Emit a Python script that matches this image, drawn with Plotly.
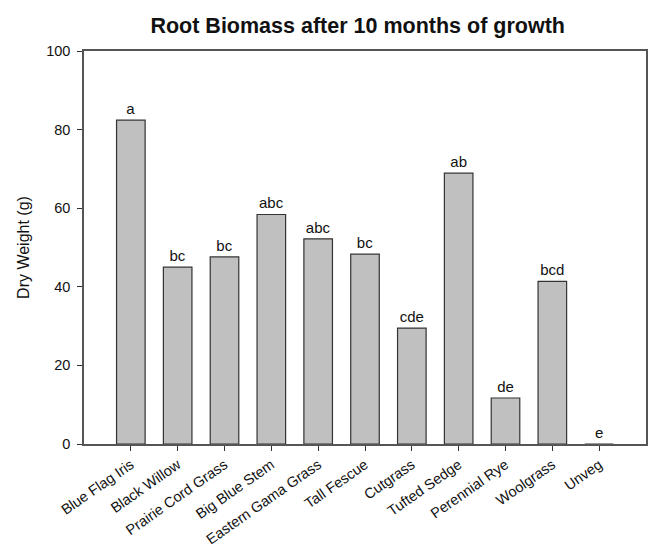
import plotly.graph_objects as go

categories = ["Blue Flag Iris", "Black Willow", "Prairie Cord Grass", "Big Blue Stem",
              "Eastern Gama Grass", "Tall Fescue", "Cutgrass", "Tufted Sedge",
              "Perennial Rye", "Woolgrass", "Unveg"]
dry_weight = [82.4, 45.0, 47.6, 58.4, 52.2, 48.3, 29.5, 68.9, 11.7, 41.4, 0.0]
letters = ["a", "bc", "bc", "abc", "abc", "bc", "cde", "ab", "de", "bcd", "e"]
y_ticks = [0, 20, 40, 60, 80, 100]

fig = go.Figure()
fig.add_trace(go.Bar(
    x=categories, y=dry_weight, text=letters, textposition="outside",
    textfont=dict(family="Liberation Sans, Arial", size=15, color="#111"),
    marker=dict(color="#c0c0c0", line=dict(color="#333333", width=1.2)),
    width=0.61, cliponaxis=False,
))

fig.update_layout(
    width=648, height=548,
    margin=dict(l=84, r=2, t=51, b=104),
    paper_bgcolor="white", plot_bgcolor="white",
    font=dict(family="Liberation Sans, Arial", size=14.5, color="#111"),
    title=dict(text="<b>Root Biomass after 10 months of growth</b>",
               x=0.552, xanchor="center", y=0.953, yanchor="middle",
               font=dict(size=21.5, color="#111")),
    showlegend=False,
    uniformtext=dict(minsize=15, mode="show"),
)
fig.update_xaxes(
    range=[-1, 11], type="category", tickangle=-35, automargin=False,
    ticks="outside", ticklen=5, tickcolor="#333", tickwidth=1,
    showline=True, linecolor="#555", linewidth=1.5, mirror=True,
    showgrid=False, tickfont=dict(size=14.5),
)
fig.update_yaxes(
    range=[0, 100], tickvals=y_ticks, automargin=False,
    ticks="outside", ticklen=5, tickcolor="#333", tickwidth=1,
    ticklabelstandoff=4,
    showline=True, linecolor="#555", linewidth=1.5, mirror=True,
    showgrid=False, zeroline=False, tickfont=dict(size=14.5),
    title=dict(text="Dry Weight (g)", font=dict(size=16), standoff=13),
)
fig.write_html("out.html", config={"displayModeBar": False},
               post_script="document.body.style.margin='0';document.body.style.overflow='hidden';")
